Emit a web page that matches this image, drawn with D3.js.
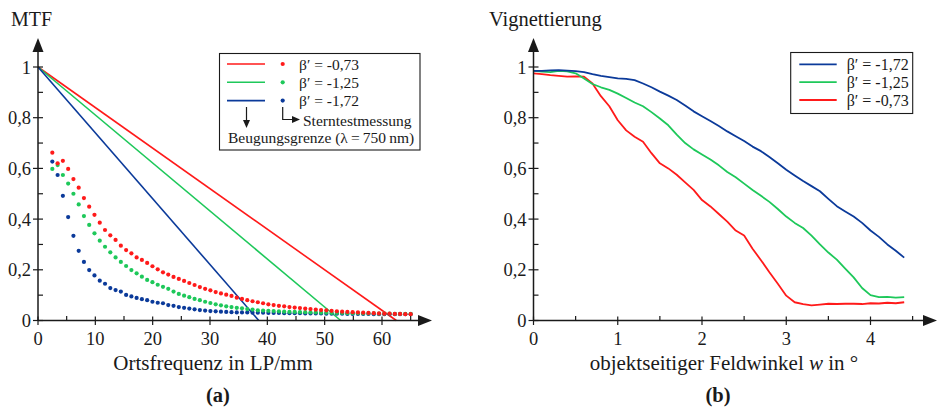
<!DOCTYPE html>
<html>
<head>
<meta charset="utf-8">
<script src="https://cdn.jsdelivr.net/npm/d3@7"></script>
<style>
  html, body { margin: 0; padding: 0; background: #fff; }
  svg text { font-family: "Liberation Serif", "DejaVu Serif", serif; fill: #1a1a1a; }
</style>
</head>
<body>
<svg id="fig" width="939" height="413"></svg>
<script>
// ---------- (a) MTF ----------
const seriesNames = ["β′ = -0,73", "β′ = -1,25", "β′ = -1,72"];
const seriesColors = ["#ff1a1a", "#1ec85a", "#0b3a9a"];
// diffraction limited cut-off frequencies (LP/mm) for the straight MTF lines
const cutoffs = [62.5, 52.8, 38.5];

// star-test sample frequencies (LP/mm)
const freqs = [2.5, 3.42, 4.34, 5.26, 6.18, 7.1, 8.01, 8.93, 9.85, 10.77, 11.69, 12.61, 13.53, 14.45,
  15.37, 16.29, 17.2, 18.12, 19.04, 19.96, 20.88, 21.8, 22.72, 23.64, 24.56, 25.48, 26.39, 27.31,
  28.23, 29.15, 30.07, 30.99, 31.91, 32.83, 33.75, 34.67, 35.58, 36.5, 37.42, 38.34, 39.26, 40.18,
  41.1, 42.02, 42.94, 43.86, 44.77, 45.69, 46.61, 47.53, 48.45, 49.37, 50.29, 51.21, 52.13, 53.05,
  53.96, 54.88, 55.8, 56.72, 57.64, 58.56, 59.48, 60.4, 61.32, 62.24, 63.15, 64.07, 65.0];

const mtfRed = [0.662, 0.620, 0.630, 0.598, 0.558, 0.524, 0.483, 0.449, 0.417, 0.386, 0.357, 0.336,
  0.318, 0.295, 0.278, 0.265, 0.249, 0.239, 0.227, 0.214, 0.202, 0.190, 0.181, 0.172, 0.164, 0.156,
  0.148, 0.140, 0.132, 0.125, 0.119, 0.112, 0.107, 0.102, 0.097, 0.090, 0.085, 0.080, 0.076, 0.072,
  0.068, 0.064, 0.061, 0.058, 0.056, 0.053, 0.051, 0.049, 0.047, 0.045, 0.043, 0.041, 0.040, 0.038,
  0.036, 0.035, 0.034, 0.033, 0.032, 0.031, 0.030, 0.029, 0.028, 0.027, 0.027, 0.026, 0.026, 0.025, 0.025];

const mtfGreen = [0.598, 0.613, 0.574, 0.540, 0.500, 0.458, 0.412, 0.377, 0.344, 0.315, 0.291, 0.269,
  0.249, 0.231, 0.215, 0.199, 0.186, 0.173, 0.160, 0.151, 0.141, 0.133, 0.125, 0.114, 0.105, 0.098,
  0.092, 0.085, 0.080, 0.074, 0.069, 0.064, 0.060, 0.056, 0.053, 0.050, 0.048, 0.045, 0.043, 0.040,
  0.039, 0.038, 0.037, 0.036, 0.035, 0.034, 0.034, 0.033, 0.033, 0.032, 0.032, 0.031, 0.031, 0.030,
  0.030, 0.030, 0.029, 0.029, 0.029, 0.028, 0.028, 0.028, 0.027, 0.027, 0.027, 0.026, 0.026, 0.026, 0.026];

const mtfBlue = [0.627, 0.574, 0.492, 0.408, 0.334, 0.275, 0.231, 0.199, 0.178, 0.157, 0.145, 0.128,
  0.120, 0.114, 0.101, 0.095, 0.089, 0.084, 0.080, 0.074, 0.070, 0.068, 0.061, 0.058, 0.053, 0.050,
  0.047, 0.044, 0.041, 0.039, 0.037, 0.036, 0.035, 0.034, 0.033, 0.032, 0.032, 0.032, 0.031, 0.031,
  0.031, 0.030, 0.030, 0.030, 0.029, 0.029, 0.029, 0.029, 0.028, 0.028, 0.028, 0.028, 0.027, 0.027,
  0.027, 0.027, 0.026, 0.026, 0.026, 0.026, 0.026, 0.025, 0.025, 0.025, 0.025, 0.025, 0.025, 0.025, 0.025];

const mtfXMajor = [0, 10, 20, 30, 40, 50, 60];
const mtfXMinor = [5, 15, 25, 35, 45, 55, 65];
const yMajor = [0, 0.2, 0.4, 0.6, 0.8, 1];
const yMinor = [0.1, 0.3, 0.5, 0.7, 0.9];

// ---------- (b) Vignettierung ----------
const vigNames = ["β′ = -1,72", "β′ = -1,25", "β′ = -0,73"];
const vigColors = ["#0b3a9a", "#1ec85a", "#ff1a1a"];
const vigAngle = [0, 0.1, 0.2, 0.3, 0.4, 0.5, 0.6, 0.7, 0.8, 0.9, 1.0, 1.1, 1.2, 1.3, 1.4, 1.5, 1.6,
  1.7, 1.8, 1.9, 2.0, 2.1, 2.2, 2.3, 2.4, 2.5, 2.6, 2.7, 2.8, 2.9, 3.0, 3.1, 3.2, 3.3, 3.4, 3.5, 3.6,
  3.7, 3.8, 3.9, 4.0, 4.1, 4.2, 4.3, 4.4];
const vigBlue = [0.985, 0.985, 0.987, 0.988, 0.986, 0.984, 0.980, 0.972, 0.965, 0.960, 0.955, 0.953,
  0.948, 0.935, 0.920, 0.903, 0.887, 0.870, 0.848, 0.825, 0.806, 0.787, 0.767, 0.746, 0.727, 0.708,
  0.686, 0.668, 0.645, 0.620, 0.595, 0.572, 0.550, 0.530, 0.510, 0.480, 0.451, 0.430, 0.410, 0.385,
  0.355, 0.330, 0.300, 0.275, 0.248];
const vigGreen = [0.985, 0.982, 0.980, 0.985, 0.983, 0.975, 0.955, 0.933, 0.920, 0.910, 0.895, 0.878,
  0.860, 0.845, 0.822, 0.797, 0.770, 0.733, 0.700, 0.675, 0.655, 0.635, 0.612, 0.586, 0.565, 0.540,
  0.515, 0.492, 0.468, 0.440, 0.410, 0.385, 0.365, 0.335, 0.300, 0.268, 0.240, 0.205, 0.170, 0.128,
  0.100, 0.092, 0.093, 0.090, 0.092];
const vigRed = [0.975, 0.972, 0.968, 0.965, 0.962, 0.963, 0.962, 0.935, 0.885, 0.845, 0.790, 0.750,
  0.725, 0.705, 0.660, 0.620, 0.600, 0.575, 0.545, 0.515, 0.475, 0.450, 0.420, 0.390, 0.355, 0.335,
  0.283, 0.238, 0.190, 0.145, 0.098, 0.072, 0.065, 0.060, 0.063, 0.066, 0.065, 0.066, 0.066, 0.065,
  0.068, 0.067, 0.070, 0.068, 0.072];

const vigXMajor = [0, 1, 2, 3, 4];
const vigXMinor = [0.5, 1.5, 2.5, 3.5, 4.5];

// ---------- drawing ----------
const svg = d3.select("#fig");
const de = d3.formatLocale({decimal: ",", thousands: ".", grouping: [3], currency: ["", " €"]});
const fmtY = de.format("~g");
const ink = "#1a1a1a";

const y = d3.scaleLinear().domain([0, 1]).range([320.5, 67]);

function arrowHead(g, x, yy, dir, len, half) {
  // filled triangular arrow head with tip at (x, yy)
  let pts;
  if (dir === "up") pts = [[x, yy], [x - half, yy + len], [x + half, yy + len]];
  else if (dir === "right") pts = [[x, yy], [x - len, yy - half], [x - len, yy + half]];
  else pts = [[x, yy], [x - half, yy - len], [x + half, yy - len]];
  g.append("path").attr("d", d3.line()(pts) + "Z").attr("fill", ink);
}

function drawAxes(g, x, xMajor, xMinor, xEnd) {
  const x0 = x(0), y0 = y(0);
  // axis lines
  g.append("line").attr("x1", x0).attr("x2", xEnd - 12).attr("y1", y0).attr("y2", y0)
    .attr("stroke", ink).attr("stroke-width", 1.5);
  g.append("line").attr("x1", x0).attr("x2", x0).attr("y1", y0).attr("y2", 50)
    .attr("stroke", ink).attr("stroke-width", 1.5);
  arrowHead(g, xEnd, y0, "right", 14, 5.5);
  arrowHead(g, x0, 38, "up", 14, 5.5);
  // x ticks
  xMajor.forEach(v => {
    g.append("line").attr("x1", x(v)).attr("x2", x(v)).attr("y1", y0 - 4).attr("y2", y0 + 4.5)
      .attr("stroke", ink).attr("stroke-width", 1.2);
    g.append("text").attr("x", x(v)).attr("y", y0 + 24.5).attr("text-anchor", "middle")
      .attr("font-size", 18.5).text(v);
  });
  xMinor.forEach(v => {
    g.append("line").attr("x1", x(v)).attr("x2", x(v)).attr("y1", y0 - 4.5).attr("y2", y0)
      .attr("stroke", ink).attr("stroke-width", 1.2);
  });
  // y ticks
  yMajor.forEach(v => {
    g.append("line").attr("x1", x0 - 5).attr("x2", x0 + 5).attr("y1", y(v)).attr("y2", y(v))
      .attr("stroke", ink).attr("stroke-width", 1.2);
    g.append("text").attr("x", x0 - 7).attr("y", y(v) + 6.5).attr("text-anchor", "end")
      .attr("font-size", 18.5).text(fmtY(v));
  });
  yMinor.forEach(v => {
    g.append("line").attr("x1", x0).attr("x2", x0 + 5).attr("y1", y(v)).attr("y2", y(v))
      .attr("stroke", ink).attr("stroke-width", 1.2);
  });
}

// ----- panel (a)
const gA = svg.append("g");
const xA = d3.scaleLinear().domain([0, 60]).range([38, 382]);

// diffraction limit lines
cutoffs.forEach((c, i) => {
  gA.append("path")
    .attr("d", d3.line().x(d => xA(d[0])).y(d => y(d[1]))([[0, 1], [c, 0]]))
    .attr("stroke", seriesColors[i]).attr("stroke-width", 1.6).attr("fill", "none");
});

// star test measurement dots (blue below, red on top)
const dotSets = [[mtfBlue, seriesColors[2]], [mtfGreen, seriesColors[1]], [mtfRed, seriesColors[0]]];
dotSets.forEach(([vals, col]) => {
  gA.append("g").selectAll("circle").data(vals).join("circle")
    .attr("cx", (d, i) => xA(freqs[i])).attr("cy", d => y(d)).attr("r", 2.1).attr("fill", col);
});

drawAxes(gA, xA, mtfXMajor, mtfXMinor, 432);

gA.append("text").attr("x", 11).attr("y", 26).attr("font-size", 20).text("MTF");
gA.append("text").attr("x", 213).attr("y", 370).attr("text-anchor", "middle")
  .attr("font-size", 21).text("Ortsfrequenz in LP/mm");
gA.append("text").attr("x", 218).attr("y", 402).attr("text-anchor", "middle")
  .attr("font-size", 20.5).attr("font-weight", "bold").text("(a)");

// legend (a)
const legA = gA.append("g");
legA.append("rect").attr("x", 219.5).attr("y", 53.5).attr("width", 200.5).attr("height", 96.5)
  .attr("fill", "#fff").attr("stroke", ink).attr("stroke-width", 1.1);
const rowY = [64, 82.3, 100.6];
seriesNames.forEach((n, i) => {
  legA.append("line").attr("x1", 227).attr("x2", 265).attr("y1", rowY[i]).attr("y2", rowY[i])
    .attr("stroke", seriesColors[i]).attr("stroke-width", 1.6);
  legA.append("circle").attr("cx", 282.7).attr("cy", rowY[i]).attr("r", 2.1).attr("fill", seriesColors[i]);
  legA.append("text").attr("x", 299).attr("y", rowY[i] + 5.5).attr("font-size", 15.5).text(n);
});
// arrow to the diffraction-limit caption
legA.append("line").attr("x1", 246.5).attr("x2", 246.5).attr("y1", 107).attr("y2", 121)
  .attr("stroke", ink).attr("stroke-width", 1.2);
arrowHead(legA, 246.5, 128, "down", 8, 3.5);
// hooked arrow to the star-test caption
legA.append("path").attr("d", "M282.7,107 V119.5 H293").attr("fill", "none")
  .attr("stroke", ink).attr("stroke-width", 1.2);
arrowHead(legA, 300, 119.5, "right", 8, 3.5);
legA.append("text").attr("x", 303).attr("y", 125.5).attr("font-size", 15.5).text("Sterntestmessung");
legA.append("text").attr("x", 228).attr("y", 143).attr("font-size", 15.5)
  .text("Beugungsgrenze (λ\u2009=\u2009750\u2009nm)");

// ----- panel (b)
const gB = svg.append("g");
const xB = d3.scaleLinear().domain([0, 4]).range([533.5, 870.5]);
const line = d3.line().x((d, i) => xB(vigAngle[i])).y(d => y(d));
[[vigRed, "#ff1a1a"], [vigGreen, "#1ec85a"], [vigBlue, "#0b3a9a"]].forEach(([vals, col]) => {
  gB.append("path").attr("d", line(vals)).attr("fill", "none").attr("stroke", col)
    .attr("stroke-width", 1.8).attr("stroke-linejoin", "round");
});

drawAxes(gB, xB, vigXMajor, vigXMinor, 937);

gB.append("text").attr("x", 489).attr("y", 26).attr("font-size", 20.5).text("Vignettierung");
const lblB = gB.append("text").attr("x", 724).attr("y", 370).attr("text-anchor", "middle")
  .attr("font-size", 21);
lblB.append("tspan").text("objektseitiger Feldwinkel ");
lblB.append("tspan").attr("font-style", "italic").text("w");
lblB.append("tspan").text(" in °");
gB.append("text").attr("x", 718).attr("y", 402).attr("text-anchor", "middle")
  .attr("font-size", 20.5).attr("font-weight", "bold").text("(b)");

// legend (b)
const legB = gB.append("g");
legB.append("rect").attr("x", 790.7).attr("y", 52.5).attr("width", 122).attr("height", 61)
  .attr("fill", "#fff").attr("stroke", ink).attr("stroke-width", 1.1);
const rowYB = [64.3, 82.1, 100];
vigNames.forEach((n, i) => {
  legB.append("line").attr("x1", 799.3).attr("x2", 836.7).attr("y1", rowYB[i]).attr("y2", rowYB[i])
    .attr("stroke", vigColors[i]).attr("stroke-width", 1.8);
  legB.append("text").attr("x", 846.7).attr("y", rowYB[i] + 5.5).attr("font-size", 16).text(n);
});
</script>
</body>
</html>
